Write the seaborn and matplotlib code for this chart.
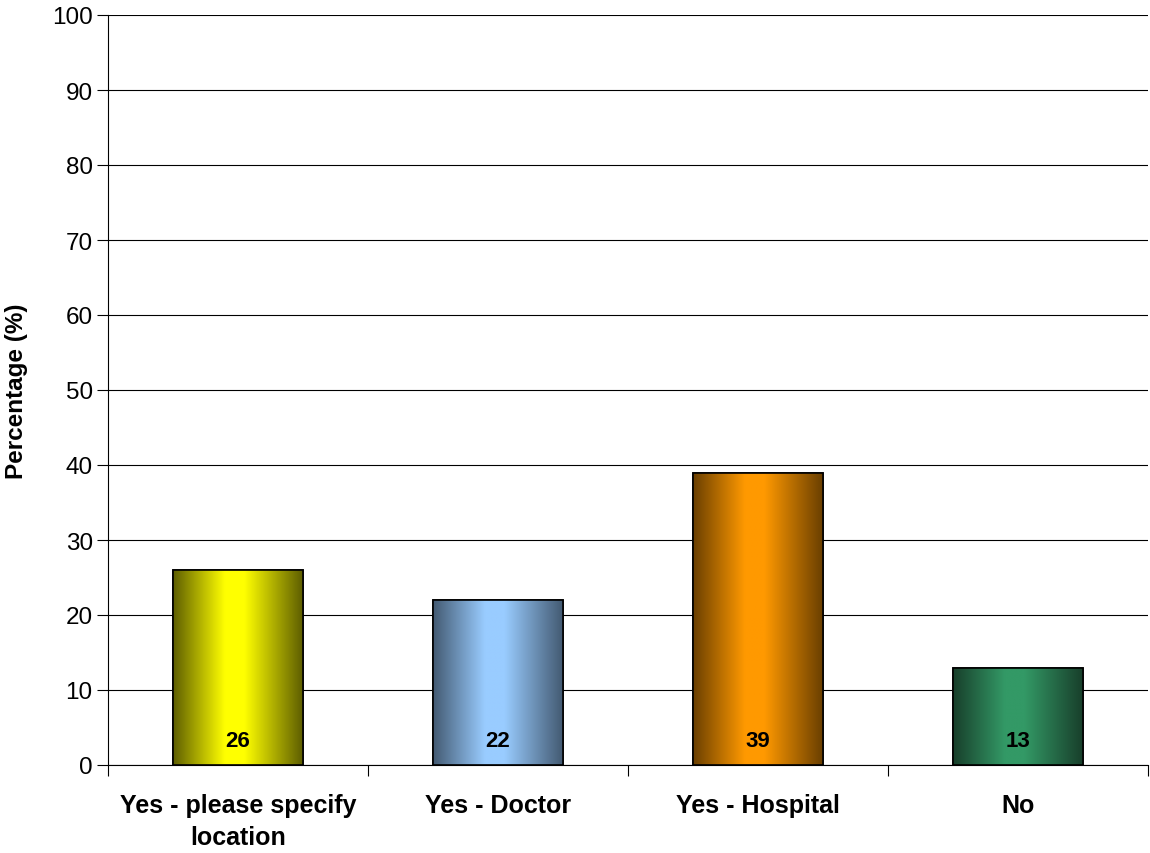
import matplotlib
matplotlib.use("Agg")
import matplotlib.pyplot as plt
import numpy as np
import pandas as pd
import seaborn as sns
from matplotlib.colors import LinearSegmentedColormap

categories = ["Yes - please specify\nlocation", "Yes - Doctor", "Yes - Hospital", "No"]
values = [26, 22, 39, 13]
center_colors = ["#FFFF00", "#99CCFF", "#FF9900", "#339966"]
edge_colors = ["#5E5E00", "#435A72", "#6A3F00", "#183F2B"]

df = pd.DataFrame({"category": categories, "value": values})

sns.set_style("white")
plt.rcParams["font.family"] = ["Liberation Sans", "DejaVu Sans"]
plt.rcParams["text.color"] = "black"
plt.rcParams["xtick.color"] = "black"
plt.rcParams["ytick.color"] = "black"
plt.rcParams["axes.labelcolor"] = "black"

fig = plt.figure(figsize=(11.5, 8.54), dpi=100)
ax = fig.add_axes([108 / 1150, 1 - 766 / 854, 1040 / 1150, 750 / 854])

sns.barplot(
    data=df,
    x="category",
    y="value",
    width=0.5,
    color="white",
    edgecolor="black",
    linewidth=1.2,
    ax=ax,
)

ax.set_ylim(0, 100)
ax.set_xlim(-0.5, len(categories) - 0.5)

# gradient fill: dark at the sides, bright in the middle
for patch, c_mid, c_edge in zip(ax.patches, center_colors, edge_colors):
    x0, y0 = patch.get_x(), patch.get_y()
    w, h = patch.get_width(), patch.get_height()
    cmap = LinearSegmentedColormap.from_list(
        "grad",
        [(0.0, c_edge), (0.40, c_mid), (0.55, c_mid), (1.0, c_edge)],
        N=256,
    )
    grad = np.linspace(0, 1, 256).reshape(1, -1)
    img = ax.imshow(
        grad,
        extent=[x0, x0 + w, y0, y0 + h],
        aspect="auto",
        cmap=cmap,
        zorder=patch.get_zorder() + 0.1,
        interpolation="bilinear",
    )
    img.set_clip_path(patch)
    ax.add_patch(plt.Rectangle(
        (x0, y0), w, h, fill=False, edgecolor="black", linewidth=1.2,
        zorder=patch.get_zorder() + 0.2,
    ))

ax.set_ylim(0, 100)
ax.set_xlim(-0.5, len(categories) - 0.5)

for i, v in enumerate(values):
    ax.text(i, 3.3, str(v), ha="center", va="center",
            fontsize=16, fontweight="bold", color="black", zorder=5)

ax.set_yticks(range(0, 101, 10))
ax.yaxis.grid(True, color="black", linewidth=0.8)
ax.set_axisbelow(True)

for side in ["top", "right"]:
    ax.spines[side].set_visible(False)
for side in ["left", "bottom"]:
    ax.spines[side].set_color("black")
    ax.spines[side].set_linewidth(0.8)

# category separators below the axis
ax.set_xticks(np.arange(-0.5, len(categories), 1.0), minor=True)
ax.tick_params(axis="x", which="minor", direction="out", length=8,
               width=0.8, color="black", bottom=True)
ax.tick_params(axis="x", which="major", length=0, pad=20, labelsize=18)
ax.tick_params(axis="y", direction="out", length=8, width=0.8,
               color="black", left=True, labelsize=17.5, pad=3)
for lab in ax.get_xticklabels():
    lab.set_fontweight("bold")
    lab.set_linespacing(1.45)

ax.set_xlabel("")
ax.set_ylabel("Percentage (%)", fontsize=17.5, fontweight="bold")
ax.yaxis.set_label_coords(-0.077, 0.5)

fig.savefig("out.png", dpi=100)
